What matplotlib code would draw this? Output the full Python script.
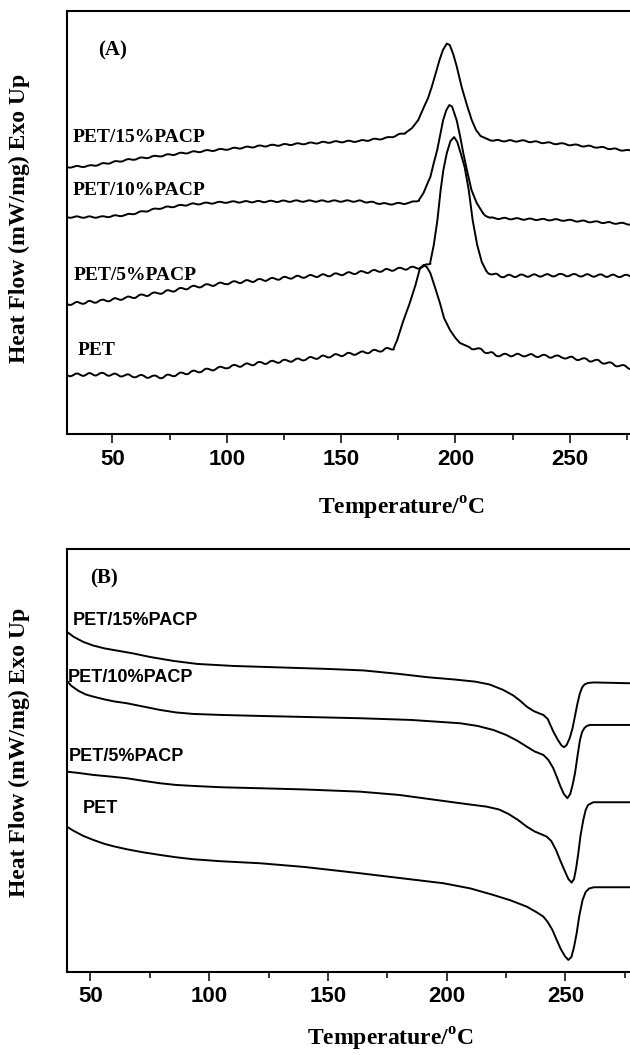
import numpy as np
import matplotlib
matplotlib.use("Agg")
import matplotlib.pyplot as plt
from matplotlib.ticker import MultipleLocator

plt.rcParams['mathtext.fontset'] = 'custom'
plt.rcParams['mathtext.rm'] = 'Liberation Serif:bold'
plt.rcParams['mathtext.bf'] = 'Liberation Serif:bold'

# ---------------- (A) cooling scans: crystallization exotherm ----------------
names = ["PET/15%PACP", "PET/10%PACP", "PET/5%PACP", "PET"]

a_t15 = [30, 40, 56, 70, 85, 100, 115, 130, 145, 158, 170, 178, 181, 183.7, 186, 188, 189.6, 191.5, 193,
         194.5, 196.2, 197.5, 199, 200.5, 202.7, 205, 207.1, 209, 211, 214, 217, 230, 247, 262, 277, 282]
a_h15 = [267.3, 268.3, 274.3, 278.3, 282.3, 285.3, 288.3, 290.3, 292.3, 293.3, 296.3, 301.3, 306.3, 314.3,
         326.3, 336.3, 347.3, 362.3, 374.3, 384.3, 390.8, 389.3, 380.3, 368.3, 347.3, 329.3, 314.3, 304.3,
         298.3, 295.3, 293.8, 293.3, 290.3, 287.3, 283.3, 282.0]

a_t10 = [30, 45, 56, 71, 85, 100, 130, 158, 170, 180, 184, 186, 188, 189, 190.5, 192, 194.6, 196, 197.3,
         198.5, 200.5, 202, 203.4, 205, 207, 209.3, 212, 215, 230, 247, 277, 282]
a_h10 = [217.3, 217.3, 219.3, 226.3, 230.3, 232.3, 233.3, 233.3, 230.3, 231.3, 234.3, 241.3, 252.3, 257.3,
         271.3, 284.3, 314.3, 324.3, 329.3, 327.8, 314.3, 298.3, 281.3, 264.3, 244.3, 231.3, 221.3, 216.3,
         215.3, 214.3, 210.3, 209.5]

a_t5 = [30, 45, 56, 70, 85, 100, 115, 130, 145, 160, 175, 186, 188.9, 190.5, 192.1, 193.5, 194.7, 196.2,
        197.8, 199.4, 200.8, 202.5, 204, 205.8, 207.5, 209.5, 211.5, 213.5, 216, 220, 247, 277, 282]
a_h5 = [130.3, 133.3, 136.3, 141.3, 147.3, 151.3, 154.3, 157.3, 159.3, 162.3, 165.3, 167.3, 171.3, 189.3,
        214.3, 244.3, 264.3, 281.3, 293.3, 297.3, 292.3, 279.3, 267.3, 244.3, 214.3, 189.3, 172.3, 163.3,
        160.3, 158.3, 159.3, 158.3, 158.3]

a_t0 = [30, 45, 60, 71, 85, 100, 115, 130, 145, 158, 168, 173, 174.5, 177, 180, 182.5, 184.5, 186, 187.5,
        189, 191, 193.2, 195, 197.6, 200, 202, 206, 211, 218, 230, 247, 262, 277, 282]
a_h0 = [59.3, 60.3, 58.3, 57.3, 62.3, 67.3, 71.3, 74.3, 78.3, 81.3, 84.3, 86.3, 94.3, 112.3, 131.3, 149.3,
        166.3, 169.3, 167.3, 161.3, 147.3, 131.3, 116.3, 104.3, 96.3, 91.3, 87.3, 84.3, 79.3, 79.3, 77.3,
        73.3, 66.3, 65.0]

# ---------------- (B) heating scans: melting endotherm ----------------
b_t15 = [40, 43, 47, 51, 56, 62, 68, 75, 85, 95, 110, 130, 150, 165, 180, 192, 203, 212, 218, 223.8, 228,
         231, 233.7, 236.5, 239, 240.7, 242.5, 244.9, 246.8, 248.3, 249.4, 250.5, 251.8, 253, 254, 255, 256,
         257, 258, 259.5, 262, 277, 282]
b_h15 = [340.0, 334.7, 329.7, 326.2, 323.2, 320.7, 318.2, 314.7, 310.7, 307.7, 305.7, 304.2, 302.7, 301.2,
         297.7, 294.4, 292.2, 290.0, 287.2, 281.7, 276.2, 270.7, 265.0, 260.7, 258.2, 256.7, 252.7, 240.0,
         231.7, 226.2, 224.4, 226.7, 233.7, 243.7, 255.7, 267.7, 277.7, 284.2, 287.2, 288.7, 289.2, 288.4, 288.4]

b_t10 = [40, 42, 45, 48, 51.2, 56, 60, 65.3, 72, 79.3, 86, 93.3, 105, 121.4, 140, 163.5, 185, 205.6, 213,
         219.6, 225, 229.5, 233.7, 237, 240.7, 242.8, 244.8, 246.3, 247.8, 249.3, 250.8, 252, 253, 254, 255,
         256.1, 257, 258, 259, 260.3, 263, 277, 282]
b_h10 = [291.0, 285.7, 280.7, 277.2, 275.0, 272.2, 270.2, 268.4, 265.2, 261.7, 259.2, 257.7, 256.7, 255.7,
         254.7, 253.4, 251.7, 248.4, 245.7, 241.7, 236.7, 231.2, 225.0, 220.2, 216.7, 211.7, 203.7, 195.0,
         185.7, 177.7, 173.4, 177.7, 186.7, 198.4, 214.7, 231.7, 239.7, 243.7, 245.7, 246.7, 246.7, 246.7, 246.7]

b_t5 = [40, 45, 51.2, 58, 65.3, 72, 79.3, 86, 93.3, 105, 121.4, 140, 163.5, 180, 198.6, 208, 216.8, 222,
        226, 230, 233.7, 237, 240, 242.1, 244, 246, 247.7, 249.5, 251.2, 252.6, 253.6, 254.5, 255.4, 256.3,
        257.5, 258.5, 259.5, 261.7, 277, 282]
b_h5 = [200.0, 198.7, 196.7, 195.2, 193.4, 190.9, 188.4, 186.7, 185.7, 184.4, 183.4, 182.2, 180.0, 176.7,
        170.7, 167.7, 165.0, 162.2, 157.7, 151.7, 145.0, 140.2, 137.2, 135.0, 130.7, 121.7, 111.7, 101.7,
        92.7, 89.0, 92.7, 103.7, 118.4, 135.7, 151.7, 161.7, 166.7, 169.4, 169.4, 169.4]

b_t0 = [40, 43, 47, 51.2, 56, 60, 65.3, 72, 79.3, 86, 93.3, 105, 121.4, 140, 163.5, 180, 198.6, 210, 219.6,
        227, 233.7, 238, 240.7, 242.5, 244.5, 246.3, 248, 249.7, 251.2, 252.5, 253.6, 254.7, 255.8, 257.2,
        258.5, 260, 262, 277, 282]
b_h0 = [145.0, 140.7, 135.7, 131.7, 127.7, 125.2, 122.4, 119.4, 116.7, 114.4, 112.4, 110.4, 108.4, 104.7,
        98.4, 93.7, 88.4, 83.2, 76.7, 71.2, 65.0, 59.2, 55.0, 49.7, 41.7, 31.7, 22.7, 15.7, 11.7, 14.7, 24.7,
        38.4, 55.7, 71.7, 79.7, 83.2, 84.4, 84.4, 84.4]

serif = "Liberation Serif"
sans = "Liberation Sans"

fig = plt.figure(figsize=(6.3, 10.55), dpi=100)
axA = fig.add_axes([0.1059, 0.5883, 0.9075, 0.4012])
axB = fig.add_axes([0.1059, 0.0790, 0.9048, 0.4004])


def style_axes(ax, xmin, xmax, ymax):
    ax.set_xlim(xmin, xmax)
    ax.set_ylim(0, ymax)
    ax.xaxis.set_major_locator(MultipleLocator(50))
    ax.xaxis.set_minor_locator(MultipleLocator(25))
    ax.tick_params(axis='x', which='major', direction='out', length=6.5, width=1.1, pad=4)
    ax.tick_params(axis='x', which='minor', direction='out', length=4, width=1.1)
    ax.tick_params(axis='y', left=False, labelleft=False)
    for s in ax.spines.values():
        s.set_linewidth(1.5)
    for lab in ax.get_xticklabels():
        lab.set_fontfamily(sans)
        lab.set_fontweight('bold')
        lab.set_fontsize(16)
    ax.set_ylabel("Heat Flow (mW/mg) Exo Up", fontfamily=serif, fontweight='bold', fontsize=17)
    ax.set_xlabel(r"Temperature/$^{\mathrm{o}}$C", fontfamily=serif, fontweight='bold', fontsize=17)


style_axes(axA, 30, 280, 423.3)
style_axes(axB, 40, 280, 422.4)

# panel A: noisy baselines drawn with a small wiggle, smooth peaks
wig = [0.7, 0.7, 1.2, 1.3]
peak_win = [(178, 214), (184, 212), (188.9, 213.5), (173, 206)]
for t, h, w, (lo, hi) in zip([a_t15, a_t10, a_t5, a_t0], [a_h15, a_h10, a_h5, a_h0], wig, peak_win):
    t = np.array(t)
    h = np.array(h)
    for m, sk in [(t <= lo, True), ((t >= lo) & (t <= hi), False), (t >= hi, True)]:
        ln, = axA.plot(t[m], h[m], color='black', lw=1.4, solid_capstyle='round')
        if sk:
            ln.set_sketch_params(scale=w, length=13, randomness=1.2)

# panel B
for t, h in zip([b_t15, b_t10, b_t5, b_t0], [b_h15, b_h10, b_h5, b_h0]):
    axB.plot(t, h, color='black', lw=1.4)

a_lab_pos = [(0.0105, 0.701), (0.0105, 0.576), (0.0128, 0.376), (0.0192, 0.199)]
for n, (x, y) in zip(names, a_lab_pos):
    axA.text(x, y, n, transform=axA.transAxes, fontfamily=serif, fontweight='bold',
             fontsize=14, ha='left', va='center')
axA.text(0.080, 0.908, "(A)", transform=axA.transAxes, fontfamily=serif, fontweight='bold',
         fontsize=15, ha='center', va='center')

b_lab_pos = [(0.0105, 0.831), (0.0023, 0.697), (0.004, 0.509), (0.029, 0.387)]
for n, (x, y) in zip(names, b_lab_pos):
    axB.text(x, y, n, transform=axB.transAxes, fontfamily=sans, fontweight='bold',
             fontsize=13, ha='left', va='center')
axB.text(0.0655, 0.930, "(B)", transform=axB.transAxes, fontfamily=serif, fontweight='bold',
         fontsize=15, ha='center', va='center')

axA.xaxis.set_label_coords(0.5856, -0.143)
axB.xaxis.set_label_coords(0.567, -0.129)
axA.yaxis.set_label_coords(-0.064, 0.51)
axB.yaxis.set_label_coords(-0.064, 0.52)

fig.savefig("out.png", dpi=100)
